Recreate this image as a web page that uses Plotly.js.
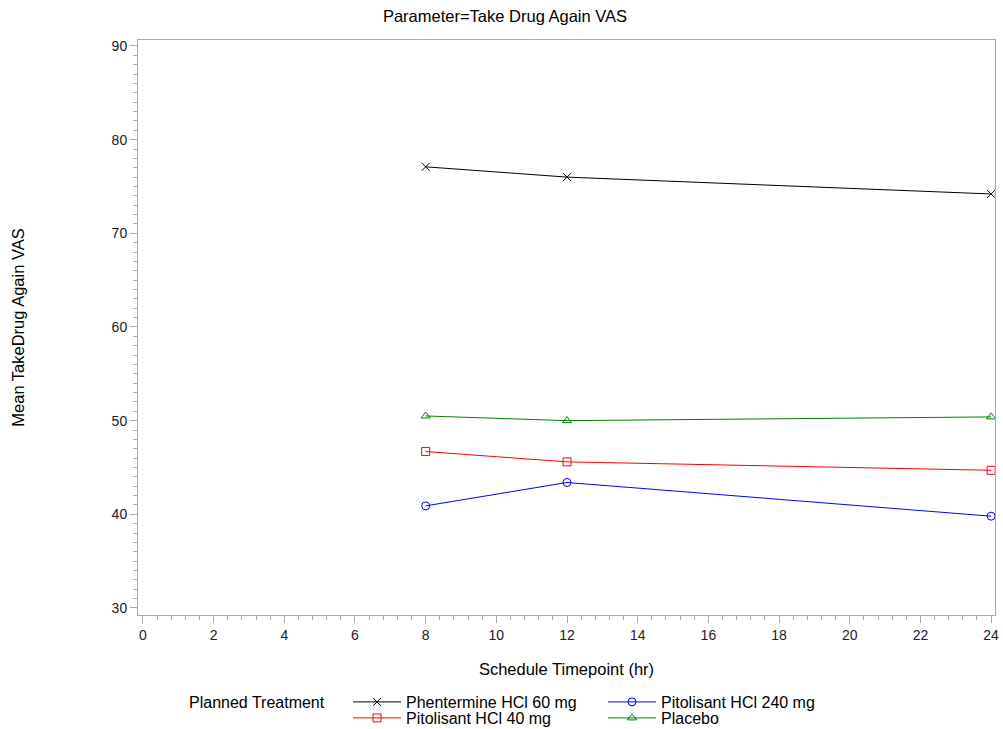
<!DOCTYPE html>
<html>
<head>
<meta charset="utf-8">
<script src="https://cdn.plot.ly/plotly-3.0.1.min.js"></script>
<style>html,body{margin:0;padding:0;background:#fff;}#chart{width:1003px;height:729px;}</style>
</head>
<body>
<div id="chart"></div>
<script>
const timepoints = [8, 12, 24];
const seriesNames = ["Phentermine HCl 60 mg", "Pitolisant HCl 240 mg", "Pitolisant HCl 40 mg", "Placebo"];
const phentermine60 = [77.1, 76.0, 74.2];
const pitolisant240 = [40.9, 43.4, 39.8];
const pitolisant40 = [46.7, 45.6, 44.7];
const placebo = [50.5, 50.0, 50.4];
const xTicks = [0, 2, 4, 6, 8, 10, 12, 14, 16, 18, 20, 22, 24];
const yTicks = [30, 40, 50, 60, 70, 80, 90];

const styles = [
  {color: "#000000", symbol: "x-thin-open", legend: "legend"},
  {color: "#0000ff", symbol: "circle-open", legend: "legend"},
  {color: "#ff0000", symbol: "square-open", legend: "legend2"},
  {color: "#008000", symbol: "triangle-up-open", legend: "legend2"}
];
const values = [phentermine60, pitolisant240, pitolisant40, placebo];

const traces = values.map((v, i) => ({
  type: "scatter",
  mode: "lines+markers",
  x: timepoints,
  y: v,
  name: seriesNames[i],
  legend: styles[i].legend,
  line: {color: styles[i].color, width: 1},
  marker: {symbol: styles[i].symbol, size: 8, color: styles[i].color, line: {color: styles[i].color, width: 1}},
  cliponaxis: false
}));

const font = "Liberation Sans, Arial, sans-serif";
const legendCommon = {
  orientation: "h", xanchor: "left", yanchor: "middle",
  font: {size: 16, color: "#000"}, entrywidth: 192, entrywidthmode: "pixels",
  itemwidth: 48, tracegroupgap: 0, bgcolor: "rgba(0,0,0,0)", borderwidth: 0
};
const layout = {
  width: 1003, height: 729,
  margin: {l: 138, r: 8, t: 40, b: 114, autoexpand: false},
  paper_bgcolor: "#fff", plot_bgcolor: "#fff",
  font: {family: font, size: 14, color: "#333"},
  title: {text: "Parameter=Take Drug Again VAS", x: 0.5035, xanchor: "center", y: 0.978, yanchor: "middle", font: {family: font, size: 16.5, color: "#000"}},
  xaxis: {
    range: [-0.14, 24.11], tickvals: xTicks, ticktext: xTicks.map(String),
    showgrid: false, zeroline: false, showline: true, mirror: true, linecolor: "#a8abaf", linewidth: 1,
    ticks: "outside", ticklen: 7, tickcolor: "#a8abaf", tickfont: {size: 14, color: "#222"},
    minor: {dtick: 0.4, tick0: 0, ticks: "outside", ticklen: 4, tickcolor: "#a8abaf", showgrid: false},
    title: {text: "Schedule Timepoint (hr)", standoff: 21, font: {size: 16.5, color: "#000"}}
  },
  yaxis: {
    range: [29.25, 90.64], tickvals: yTicks, ticktext: yTicks.map(String),
    showgrid: false, zeroline: false, showline: true, mirror: true, linecolor: "#a8abaf", linewidth: 1,
    ticks: "outside", ticklen: 7, tickcolor: "#a8abaf", tickfont: {size: 14, color: "#222"},
    minor: {dtick: 1, tick0: 30, ticks: "outside", ticklen: 4, tickcolor: "#a8abaf", showgrid: false},
    title: {text: "Mean TakeDrug Again VAS", standoff: 82, font: {size: 16.5, color: "#000"}}
  },
  showlegend: true,
  legend: Object.assign({}, legendCommon, {x: (348 - 138) / 857, y: -87 / 575}),
  legend2: Object.assign({}, legendCommon, {x: (348 - 138) / 857, y: -103 / 575}),
  annotations: [{
    text: "Planned Treatment", xref: "paper", yref: "paper",
    x: (187 - 138) / 857, y: -87 / 575, xanchor: "left", yanchor: "middle", showarrow: false,
    font: {size: 16, color: "#000"}
  }]
};

Plotly.newPlot("chart", traces, layout, {displayModeBar: false, staticPlot: true});
</script>
</body>
</html>
